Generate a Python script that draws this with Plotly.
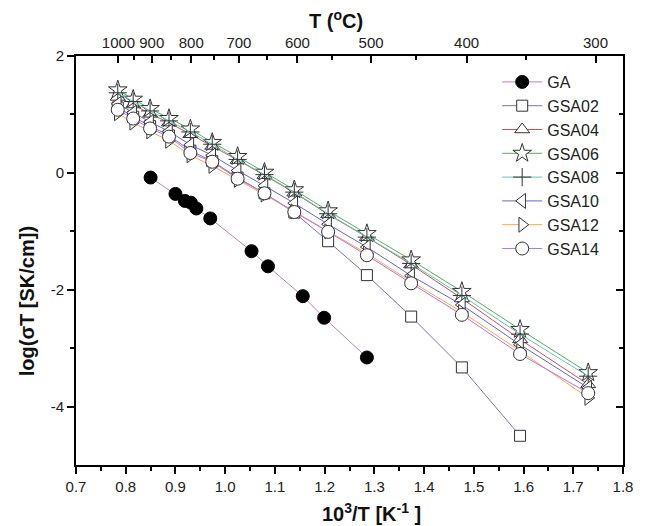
import plotly.graph_objects as go

# ---- data -------------------------------------------------------------
# inverse temperature (1000/T, K^-1) at which the GSA samples were measured
x_gsa = [0.784, 0.815, 0.849, 0.887, 0.930, 0.974, 1.025, 1.079, 1.139,
         1.207, 1.285, 1.374, 1.476, 1.593, 1.730]

ga_x = [0.850, 0.900, 0.919, 0.931, 0.942, 0.970, 1.053, 1.086, 1.156, 1.199, 1.285]
ga_y = [-0.08, -0.36, -0.48, -0.51, -0.61, -0.78, -1.34, -1.60, -2.11, -2.48, -3.16]

gsa02 = [1.12, 0.96, 0.80, 0.64, 0.38, 0.20, -0.08, -0.35, -0.68, -1.17,
         -1.75, -2.46, -3.33, -4.50]
gsa04 = [1.30, 1.17, 1.01, 0.86, 0.66, 0.46, 0.22, -0.04, -0.34, -0.71,
         -1.10, -1.57, -2.15, -2.85, -3.62]
gsa06 = [1.42, 1.26, 1.10, 0.93, 0.75, 0.52, 0.28, 0.01, -0.29, -0.65,
         -1.04, -1.49, -2.03, -2.68, -3.42]
gsa08 = [1.37, 1.22, 1.06, 0.89, 0.70, 0.49, 0.23, -0.03, -0.33, -0.70,
         -1.10, -1.55, -2.10, -2.76, -3.48]
gsa10 = [1.18, 1.03, 0.87, 0.71, 0.48, 0.30, 0.04, -0.22, -0.52, -0.88,
         -1.27, -1.76, -2.26, -2.94, -3.68]
gsa12 = [1.02, 0.86, 0.71, 0.55, 0.30, 0.12, -0.12, -0.37, -0.66, -1.00,
         -1.38, -1.86, -2.38, -3.05, -3.85]
gsa14 = [1.08, 0.93, 0.76, 0.62, 0.34, 0.19, -0.10, -0.35, -0.67, -1.01,
         -1.41, -1.89, -2.43, -3.10, -3.77]

# top axis: temperature in Celsius
t_major = [1000, 900, 800, 700, 600, 500, 400, 300]
t_minor = [950, 850, 750, 650, 550, 450, 350]

y_ticks = [2, 0, -2, -4]
y_ticktext = ["2", "0", "-2", "-4"]

# ---- styling ----------------------------------------------------------
FONT = "Liberation Sans, Arial, sans-serif"
EDGE = "#333333"

series = [
    ("GSA02", x_gsa[:len(gsa02)], gsa02, "square", "#7474c4", 11),
    ("GSA04", x_gsa, gsa04, "triangle-up", "#c85454", 13),
    ("GSA06", x_gsa, gsa06, "star", "#58b058", 14),
    ("GSA08", x_gsa, gsa08, "cross-thin", "#64c4c4", 13),
    ("GSA10", x_gsa, gsa10, "triangle-left", "#6464d4", 13),
    ("GSA12", x_gsa, gsa12, "triangle-right", "#ffa448", 13),
    ("GSA14", x_gsa, gsa14, "circle", "#b474f4", 13),
]

fig = go.Figure()

fig.add_trace(go.Scatter(
    x=ga_x, y=ga_y, name="GA", mode="lines+markers",
    line=dict(color="#c47cc4", width=1),
    marker=dict(symbol="circle", size=13, color="black",
                line=dict(color="black", width=1)),
))

for name, xs, ys, sym, col, size in series:
    fig.add_trace(go.Scatter(
        x=xs, y=ys, name=name, mode="lines+markers",
        line=dict(color=col, width=1),
        marker=dict(symbol=sym, size=size, color="white",
                    line=dict(color=EDGE, width=1)),
    ))

# empty trace so the top / right frame axes are drawn
fig.add_trace(go.Scatter(x=[None], y=[None], xaxis="x2", yaxis="y2",
                         showlegend=False, hoverinfo="skip"))

inv_major = [1000.0 / (t + 273.15) for t in t_major]
inv_minor = [1000.0 / (t + 273.15) for t in t_minor]

axis_common = dict(showline=True, linecolor="black", linewidth=2,
                   showgrid=False, zeroline=False, ticklen=7, tickwidth=2,
                   tickcolor="black",
                   tickfont=dict(family=FONT, size=15, color="#222"))

fig.update_layout(
    width=645, height=526,
    margin=dict(l=76, r=13, t=56, b=61),
    paper_bgcolor="white", plot_bgcolor="white",
    font=dict(family=FONT, color="#222"),
    xaxis=dict(range=[0.7, 1.8], dtick=0.1, tick0=0.7, tickformat=".1f",
               ticks="outside",
               minor=dict(dtick=0.05, tick0=0.7, ticks="outside", ticklen=4,
                          tickwidth=2, tickcolor="black"),
               **axis_common),
    yaxis=dict(range=[-5, 2], tickmode="array", tickvals=y_ticks,
               ticktext=y_ticktext, ticks="outside",
               minor=dict(tickvals=[1, -1, -3], ticks="outside", ticklen=4,
                          tickwidth=2, tickcolor="black"),
               **axis_common),
    xaxis2=dict(range=[0.7, 1.8], overlaying="x", side="top", anchor="y2",
                tickmode="array", tickvals=inv_major,
                ticktext=[str(t) for t in t_major], ticks="inside",
                minor=dict(tickvals=inv_minor, ticks="inside", ticklen=4,
                           tickwidth=2, tickcolor="black"),
                **axis_common),
    yaxis2=dict(range=[-5, 2], overlaying="y", side="right", anchor="x2",
                tickmode="array", tickvals=y_ticks, showticklabels=False,
                ticks="inside",
                minor=dict(tickvals=[1, -1, -3], ticks="inside", ticklen=4,
                           tickwidth=2, tickcolor="black"),
                **axis_common),
    legend=dict(x=0.77, y=0.978, xanchor="left", yanchor="top",
                bgcolor="rgba(0,0,0,0)", borderwidth=0,
                font=dict(family=FONT, size=16, color="#222"),
                itemsizing="trace", itemwidth=40, tracegroupgap=0),
    showlegend=True,
    annotations=[
        dict(text="<b>10<sup>3</sup>/T [K<sup>-1</sup> ]</b>", xref="paper",
             yref="paper", x=0.54, y=-0.117, xanchor="center",
             yanchor="middle", showarrow=False,
             font=dict(family=FONT, size=20, color="#111")),
        dict(text="<b>T (<sup>o</sup>C)</b>", xref="paper", yref="paper",
             x=0.475, y=1.09, xanchor="center", yanchor="middle",
             showarrow=False, font=dict(family=FONT, size=20, color="#111")),
        dict(text="<b>log(σT [SK/cm])</b>", xref="paper", yref="paper",
             x=-0.088, y=0.40, xanchor="center", yanchor="middle",
             textangle=-90, showarrow=False,
             font=dict(family=FONT, size=20, color="#111")),
    ],
)

fig.write_html("out.html")
